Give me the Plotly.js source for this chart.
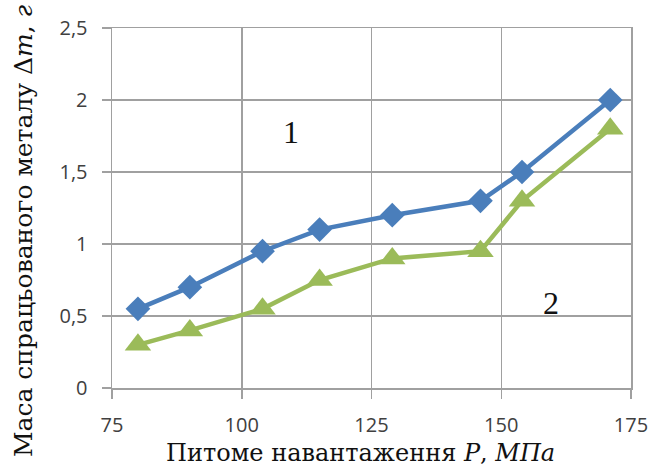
<!DOCTYPE html>
<html>
<head>
<meta charset="utf-8">
<script src="https://cdn.plot.ly/plotly-3.0.1.min.js"></script>
<style>html,body{margin:0;padding:0;background:#fff;}#chart{width:652px;height:468px;}</style>
</head>
<body>
<div id="chart"></div>
<script>
const pressure1 = [80, 90, 104, 115, 129, 146, 154, 171];
const mass1 = [0.55, 0.70, 0.95, 1.10, 1.20, 1.30, 1.50, 2.00];
const pressure2 = [80, 90, 104, 115, 129, 146, 154, 171];
const mass2 = [0.30, 0.40, 0.55, 0.75, 0.90, 0.95, 1.30, 1.80];
const xTicks = [75, 100, 125, 150, 175];
const yTicks = [0, 0.5, 1, 1.5, 2, 2.5];
const yTickLabels = ['0', '0,5', '1', '1,5', '2', '2,5'];

const gridColor = '#a0a0a0';
const traces = [
  {x: pressure1, y: mass1, mode: 'lines+markers', type: 'scatter',
   line: {color: '#4a7ebb', width: 4.5},
   marker: {symbol: 'diamond', size: 19, color: '#4a7ebb'}},
  {x: pressure2, y: mass2, mode: 'lines+markers', type: 'scatter',
   line: {color: '#9bbb59', width: 4.5},
   marker: {symbol: 'triangle-up', size: 23, color: '#9bbb59'}}
];
const layout = {
  width: 652, height: 468,
  margin: {l: 112, r: 21, t: 28, b: 80},
  paper_bgcolor: '#fff', plot_bgcolor: '#fff',
  showlegend: false,
  font: {family: 'Open Sans, DejaVu Sans, sans-serif', color: '#404040'},
  xaxis: {range: [75, 175], tickvals: xTicks, ticktext: xTicks.map(String),
    showgrid: true, gridcolor: gridColor, gridwidth: 1.5,
    showline: true, linecolor: gridColor, linewidth: 1.5, mirror: true,
    ticks: 'outside', ticklen: 9, tickcolor: gridColor, tickwidth: 1.5,
    ticklabelstandoff: 9,
    tickfont: {size: 20, color: '#404040'}, zeroline: false},
  yaxis: {range: [0, 2.5], tickvals: yTicks, ticktext: yTickLabels,
    showgrid: true, gridcolor: gridColor, gridwidth: 1.5,
    showline: true, linecolor: gridColor, linewidth: 1.5, mirror: true,
    ticks: 'outside', ticklen: 9, tickcolor: gridColor, tickwidth: 1.5,
    ticklabelstandoff: 10,
    tickfont: {size: 20, color: '#404040'}, zeroline: false},
  annotations: [
    {text: '1', x: 109.5, y: 1.78, xref: 'x', yref: 'y', showarrow: false,
     font: {family: 'Liberation Serif, serif', size: 32, color: '#111'}},
    {text: '2', x: 159.6, y: 0.59, xref: 'x', yref: 'y', showarrow: false,
     font: {family: 'Liberation Serif, serif', size: 32, color: '#111'}},
    {text: 'Питоме навантаження <i>P</i>, <i>МПа</i>', xref: 'paper', yref: 'paper',
     x: 0.478, y: 0, yshift: -65, xanchor: 'center', yanchor: 'middle', showarrow: false,
     font: {family: 'DejaVu Serif, serif', size: 24, color: '#111'}},
    {text: 'Маса спрацьованого металу Δ<i>m</i>, <i>г</i>', xref: 'paper', yref: 'paper',
     x: 0, xshift: -89, y: 0.436, xanchor: 'center', yanchor: 'middle', textangle: -90, showarrow: false,
     font: {family: 'DejaVu Serif, serif', size: 25, color: '#111'}}
  ]
};
Plotly.newPlot('chart', traces, layout, {staticPlot: true, displayModeBar: false});
</script>
</body>
</html>
